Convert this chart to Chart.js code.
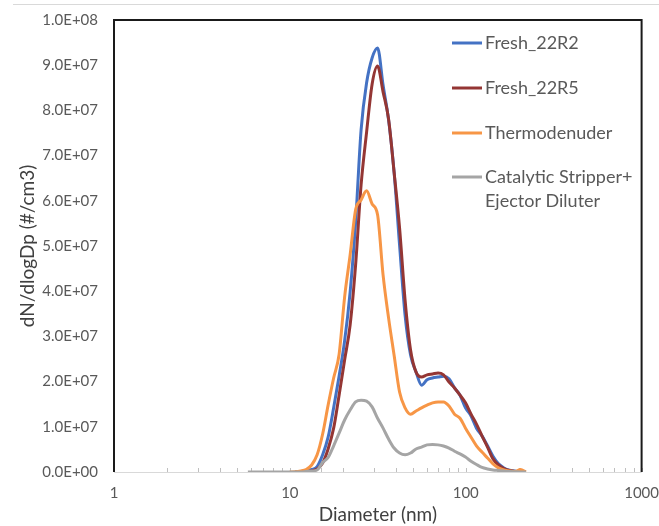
<!DOCTYPE html>
<html>
<head>
<meta charset="utf-8">
<script src="https://cdn.jsdelivr.net/npm/chart.js@4.4.1/dist/chart.umd.min.js"></script>
<style>
html, body { margin: 0; padding: 0; background: #fff; }
</style>
</head>
<body>
<canvas id="psd-chart" width="659" height="526"></canvas>
<script>
// diameters (nm), SMPS channels
var diameters = [5.77, 6.03, 6.47, 6.96, 7.48, 8.04, 8.64, 9.28, 9.97, 10.72, 11.51, 12.37, 13.30, 14.29,
    15.36, 16.50, 17.74, 19.05, 20.48, 22.01, 23.65, 25.41, 27.31, 29.35, 31.53, 33.88, 36.41, 39.13,
    42.05, 45.19, 48.56, 52.18, 56.08, 60.26, 64.75, 69.59, 74.78, 80.35, 86.35, 92.79, 99.71, 107.2,
    115.1, 123.7, 133.0, 142.9, 153.6, 165.0, 177.4, 190.5, 204.8, 220.1];

var fresh22R2 = [null, null, null, null, null, null, null, null, null, 0, 1e5, 2.7e5, 5.5e5, 1.2e6,
    3.8e6, 7.7e6, 1.42e7, 2.12e7, 2.90e7, 3.98e7, 5.53e7, 7.57e7, 8.61e7, 9.16e7, 9.38e7, 8.56e7,
    7.79e7, 6.64e7, 5.02e7, 3.47e7, 2.59e7, 2.21e7, 1.92e7, 2.04e7, 2.08e7, 2.10e7, 2.12e7, 2.06e7,
    1.86e7, 1.70e7, 1.42e7, 1.24e7, 9.7e6, 8.0e6, 5.8e6, 3.5e6, 1.8e6, 9e5, 4e5, 2e5, 0, 0];

var fresh22R5 = [null, null, null, null, null, null, null, null, null, 0, 0, 7e4, 2.2e5, 6.6e5,
    2.0e6, 5.1e6, 9.7e6, 1.70e7, 2.48e7, 3.25e7, 4.58e7, 6.35e7, 7.52e7, 8.58e7, 8.98e7, 8.41e7,
    7.81e7, 6.64e7, 5.40e7, 3.81e7, 2.70e7, 2.21e7, 2.10e7, 2.15e7, 2.17e7, 2.19e7, 2.15e7, 1.99e7,
    1.86e7, 1.70e7, 1.53e7, 1.28e7, 1.06e7, 8.0e6, 5.5e6, 2.9e6, 1.55e6, 7.7e5, 3.3e5, 1e5, 0, 0];

var thermodenuder = [null, null, null, null, null, null, null, null, 0, 5e4, 2.2e5, 5.5e5, 1.55e6, 3.8e6,
    8.4e6, 1.48e7, 2.08e7, 2.6e7, 3.87e7, 4.80e7, 5.80e7, 6.02e7, 6.22e7, 5.93e7, 5.69e7, 4.36e7,
    3.41e7, 2.59e7, 1.77e7, 1.42e7, 1.28e7, 1.35e7, 1.42e7, 1.48e7, 1.53e7, 1.55e7, 1.55e7, 1.46e7,
    1.28e7, 1.19e7, 9.7e6, 7.7e6, 5.8e6, 4.4e6, 3.1e6, 1.8e6, 9e5, 4.4e5, 2.2e5, 1.1e5, 5.5e5, 0];

var catalyticStripper = [0, 0, 0, 0, 0, 0, 0, 0, 0, 0, 0, 1e5, 2.2e5, 4.4e5,
    2.1e6, 3.2e6, 5.8e6, 8.6e6, 1.15e7, 1.37e7, 1.55e7, 1.59e7, 1.57e7, 1.44e7, 1.19e7, 9.7e6,
    7.3e6, 5.3e6, 4.2e6, 3.8e6, 4.2e6, 5.1e6, 5.5e6, 6.0e6, 6.1e6, 6.0e6, 5.75e6, 5.3e6,
    4.6e6, 4.0e6, 3.3e6, 2.4e6, 1.66e6, 1.0e6, 6.6e5, 4.4e5, 3.3e5, 2.2e5, 1.1e5, 5e4, 0, 0];

var seriesNames = ['Fresh_22R2', 'Fresh_22R5', 'Thermodenuder', 'Catalytic Stripper+\nEjector Diluter'];
var seriesColors = ['#4472C4', '#943634', '#F79646', '#A5A5A5'];
var xTickLabels = [1, 10, 100, 1000];

function toPoints(values) {
    return diameters.map(function (d, i) { return { x: d, y: values[i] }; });
}

function sci(v) {
    if (v === 0) return '0.0E+00';
    var e = Math.floor(Math.log10(v) + 1e-9);
    var m = v / Math.pow(10, e);
    return m.toFixed(1) + 'E+' + String(e).padStart(2, '0');
}

var allSeries = [fresh22R2, fresh22R5, thermodenuder, catalyticStripper];

var frame = {
    id: 'frame',
    beforeDatasetsDraw: function (chart) {
        var c = chart.ctx, a = chart.chartArea, xs = chart.scales.x;
        c.save();
        c.strokeStyle = '#d9d9d9';
        c.lineWidth = 1;
        c.beginPath(); c.moveTo(13, 4.5); c.lineTo(659, 4.5); c.stroke();
        c.beginPath(); c.moveTo(a.left, a.bottom + 0.5); c.lineTo(a.right, a.bottom + 0.5); c.stroke();
        c.strokeStyle = '#bfbfbf';
        xs.ticks.forEach(function (t) {
            var px = Math.round(xs.getPixelForValue(t.value)) + 0.5;
            c.beginPath(); c.moveTo(px, a.bottom); c.lineTo(px, a.bottom - 4); c.stroke();
        });
        c.strokeStyle = '#1a1a1a';
        c.lineWidth = 2;
        c.beginPath();
        c.moveTo(a.left, a.bottom); c.lineTo(a.left, a.top); c.lineTo(a.right, a.top); c.lineTo(a.right, a.bottom);
        c.stroke();
        c.restore();
    }
};

var legendBox = {
    id: 'legend-box',
    afterDraw: function (chart) {
        var c = chart.ctx;
        var rows = [43, 88, 133, 177];
        c.save();
        c.font = '18px Lato, sans-serif';
        c.textBaseline = 'middle';
        c.textAlign = 'left';
        chart.data.datasets.forEach(function (ds, i) {
            c.strokeStyle = ds.borderColor;
            c.lineWidth = 3;
            c.beginPath(); c.moveTo(452, rows[i]); c.lineTo(482, rows[i]); c.stroke();
            c.fillStyle = '#595959';
            ds.label.split('\n').forEach(function (line, k) {
                c.fillText(line, 485, rows[i] + k * 24);
            });
        });
        c.restore();
    }
};

new Chart(document.getElementById('psd-chart'), {
    type: 'line',
    data: {
        datasets: allSeries.map(function (s, i) {
            return {
                label: seriesNames[i],
                data: toPoints(s),
                borderColor: seriesColors[i],
                backgroundColor: seriesColors[i],
                borderWidth: 3,
                pointRadius: 0,
                cubicInterpolationMode: 'monotone',
                order: 4 - i
            };
        })
    },
    options: {
        responsive: false,
        animation: false,
        layout: { padding: { left: 0, right: 0, top: 20, bottom: 0 } },
        plugins: { legend: { display: false }, tooltip: { enabled: false } },
        scales: {
            x: {
                type: 'logarithmic',
                min: 1,
                max: 1000,
                grid: { display: false, drawTicks: true, tickLength: 12 },
                border: { display: false },
                ticks: {
                    autoSkip: false,
                    maxRotation: 0,
                    padding: 0,
                    color: '#595959',
                    font: { family: 'Lato', size: 15 },
                    callback: function (v) { return xTickLabels.indexOf(v) >= 0 ? String(v) : ''; }
                },
                title: { display: true, text: 'Diameter (nm)', color: '#404040',
                    font: { family: 'Lato', size: 19 }, padding: { top: 0, bottom: 0 } },
                afterFit: function (s) { s.height = 54; }
            },
            y: {
                min: 0,
                max: 1e8,
                grid: { display: false, drawTicks: true, tickLength: 16 },
                border: { display: false },
                ticks: {
                    stepSize: 1e7,
                    padding: 0,
                    color: '#595959',
                    font: { family: 'Lato', size: 15 },
                    callback: function (v) { return sci(v); }
                },
                title: { display: true, text: 'dN/dlogDp (#/cm3)', color: '#404040',
                    font: { family: 'Lato', size: 19 }, padding: { top: 16, bottom: 0 } },
                afterFit: function (s) { s.width = 114; }
            }
        }
    },
    plugins: [frame, legendBox]
});
</script>
</body>
</html>
